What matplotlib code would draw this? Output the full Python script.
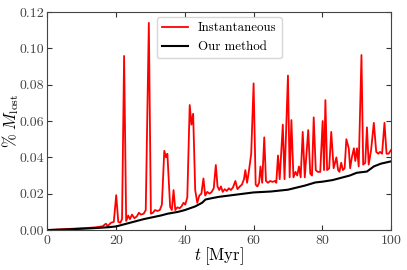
import numpy as np
import matplotlib
matplotlib.use('Agg')
import matplotlib.pyplot as plt

plt.rcParams['font.family'] = 'serif'
plt.rcParams['font.serif'] = ['cmr10', 'DejaVu Serif']
plt.rcParams['mathtext.fontset'] = 'cm'
plt.rcParams['axes.formatter.use_mathtext'] = True
plt.rcParams['font.size'] = 10

# instantaneous mass loss
t_inst = [0, 2, 4, 6, 8, 10, 12, 14, 15, 16, 17, 17.5, 18.5, 19.3, 20.0, 20.6, 21.2, 21.7,
          22.3, 22.9, 23.5, 24.0, 24.6, 25.3, 26.0, 26.6, 27.2, 28.0, 28.6, 29.5, 30.1,
          30.7, 31.3, 32.0, 32.7, 33.3, 34.0, 34.5, 34.9, 35.7, 36.2, 36.7, 37.2, 37.8,
          38.5, 39.0, 39.6, 40.1, 40.7, 41.4, 41.9, 42.4, 43.0, 43.6, 44.2, 44.8, 45.4,
          45.9, 46.5, 47.2, 47.8, 48.4, 49.0, 49.5, 50.0, 50.5, 51.0, 51.6, 52.2, 52.8,
          53.4, 54.0, 54.7, 55.3, 56.0, 56.6, 57.2, 57.6, 58.1, 58.6, 59.3, 60.0, 60.6,
          61.1, 61.6, 62.0, 62.5, 63.1, 63.6, 64.2, 64.8, 65.5, 66.2, 66.6, 67.1, 67.6,
          68.5, 69.0, 70.0, 70.5, 71.0, 71.6, 72.2, 72.7, 73.2, 73.7, 74.3, 74.9, 75.9,
          76.5, 77.0, 77.5, 78.1, 78.7, 79.4, 80.1, 80.5, 80.9, 81.4, 82.0, 82.6, 83.3,
          84.1, 84.6, 85.0, 85.5, 86.0, 86.5, 87.0, 87.7, 88.1, 88.6, 89.2, 89.6, 90.1,
          90.6, 91.4, 91.9, 92.5, 93.0, 93.5, 94.2, 95.0, 95.7, 96.3, 96.8, 97.4, 98.1,
          98.7, 99.3, 100]
m_inst = [0.0000, 0.0002, 0.0004, 0.0006, 0.0008, 0.0010, 0.0012, 0.0015, 0.0018, 0.0020,
          0.0035, 0.0022, 0.0040, 0.0045, 0.0192, 0.0045, 0.0040, 0.0060, 0.0958, 0.0050,
          0.0080, 0.0060, 0.0085, 0.0065, 0.0075, 0.0095, 0.0085, 0.0090, 0.0110, 0.1140,
          0.0090, 0.0095, 0.0110, 0.0105, 0.0110, 0.0140, 0.0436, 0.0400, 0.0420, 0.0128,
          0.0110, 0.0220, 0.0110, 0.0125, 0.0120, 0.0130, 0.0150, 0.0140, 0.0180, 0.0688,
          0.0580, 0.0640, 0.0220, 0.0150, 0.0190, 0.0200, 0.0284, 0.0190, 0.0210, 0.0200,
          0.0210, 0.0230, 0.0358, 0.0240, 0.0220, 0.0240, 0.0210, 0.0225, 0.0215, 0.0230,
          0.0220, 0.0235, 0.0270, 0.0225, 0.0240, 0.0250, 0.0280, 0.0330, 0.0260, 0.0320,
          0.0420, 0.0807, 0.0250, 0.0240, 0.0260, 0.0350, 0.0260, 0.0510, 0.0270, 0.0260,
          0.0270, 0.0265, 0.0270, 0.0260, 0.0410, 0.0280, 0.0580, 0.0280, 0.0850, 0.0290,
          0.0605, 0.0290, 0.0320, 0.0300, 0.0350, 0.0290, 0.0540, 0.0290, 0.0550, 0.0310,
          0.0300, 0.0620, 0.0330, 0.0320, 0.0320, 0.0600, 0.0330, 0.0715, 0.0330, 0.0340,
          0.0540, 0.0340, 0.0400, 0.0330, 0.0320, 0.0370, 0.0330, 0.0340, 0.0500, 0.0450,
          0.0340, 0.0400, 0.0450, 0.0380, 0.0450, 0.0350, 0.0963, 0.0360, 0.0370, 0.0565,
          0.0360, 0.0440, 0.0590, 0.0430, 0.0420, 0.0430, 0.0420, 0.0590, 0.0420, 0.0420,
          0.0440]

# our method
t_ours = [0, 5, 10, 15, 18, 20, 22, 25, 28, 30, 33, 35, 38, 40, 43, 45, 46, 48, 50, 55,
          60, 65, 70, 75, 78, 80, 83, 85, 88, 90, 93, 95, 97, 100]
m_ours = [0.0, 0.0003, 0.0007, 0.0012, 0.0016, 0.0020, 0.0030, 0.0045, 0.0060, 0.0068,
          0.0080, 0.0090, 0.0100, 0.0110, 0.0130, 0.0150, 0.0168, 0.0176, 0.0183, 0.0195,
          0.0207, 0.0212, 0.0222, 0.0245, 0.0262, 0.0266, 0.0275, 0.0285, 0.0300, 0.0315,
          0.0322, 0.0350, 0.0365, 0.0378]

fig = plt.figure(figsize=(4.07, 2.70), dpi=100)
ax = fig.add_axes([0.1167, 0.148, 0.844, 0.8076])
ax.plot(t_inst, m_inst, color='#ff0000', linewidth=1.3, label='Instantaneous')
ax.plot(t_ours, m_ours, color='black', linewidth=1.5, label='Our method')

ax.set_xlim(0, 100)
ax.set_ylim(0, 0.12)
ax.set_xticks([0, 20, 40, 60, 80, 100])
ax.set_yticks([0.0, 0.02, 0.04, 0.06, 0.08, 0.10, 0.12])
ax.set_yticklabels(['0.00', '0.02', '0.04', '0.06', '0.08', '0.10', '0.12'])
ax.tick_params(direction='in', top=True, right=True, length=3.5, width=0.8,
               labelsize=10, colors='#333333', labelcolor='#444444', pad=2.5)
for s in ax.spines.values():
    s.set_color('#444444')

ax.set_xlabel(r'$t\;[\rm Myr]$', fontsize=12, labelpad=-1)
ax.set_ylabel(r'$\%\ M_{\rm lost}$', fontsize=12)
ax.yaxis.set_label_coords(-0.078, 0.5)

ax.legend(loc='upper center', fontsize=9.3, frameon=True, borderaxespad=0.4)

fig.savefig('out.png', dpi=100)
